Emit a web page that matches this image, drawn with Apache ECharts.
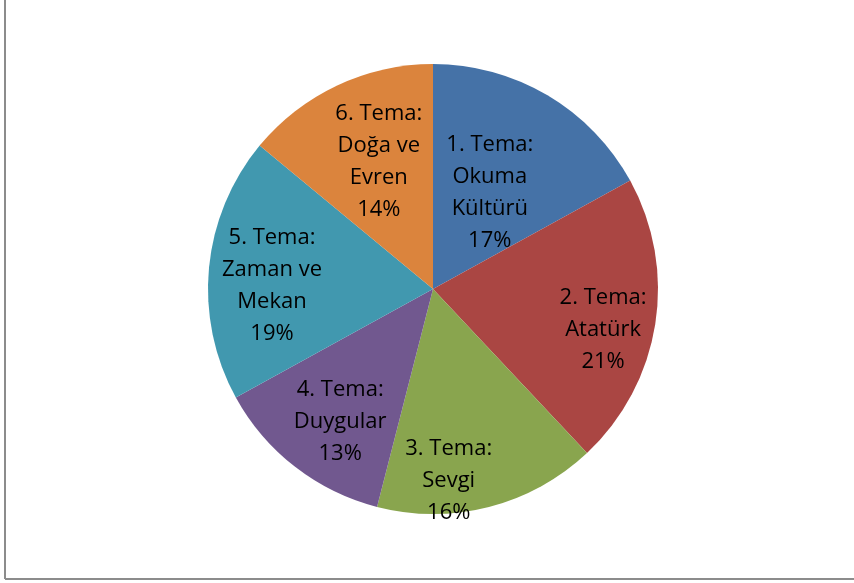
<!DOCTYPE html>
<html>
<head>
<meta charset="utf-8">
<script src="https://cdn.jsdelivr.net/npm/echarts@6/dist/echarts.min.js"></script>
<style>html,body{margin:0;padding:0;background:#fff;}#c{width:854px;height:583px;}</style>
</head>
<body>
<div id="c"></div>
<script>
const categories = ["1. Tema:\nOkuma\nKültürü", "2. Tema:\nAtatürk", "3. Tema:\nSevgi", "4. Tema:\nDuygular", "5. Tema:\nZaman ve\nMekan", "6. Tema:\nDoğa ve\nEvren"];
const values = [17, 21, 16, 13, 19, 14];
const colors = ["#4572A7", "#AA4643", "#89A54E", "#71588F", "#4198AF", "#DB843D"];
const labelShift = [[-2, 3], [56, 23], [-13, 80], [-22, 41], [-46, 8], [-5, -23]];

const chart = echarts.init(document.getElementById('c'));
chart.setOption({
  animation: false,
  graphic: [
    { type: 'line', shape: { x1: 5, y1: 0, x2: 5, y2: 579 }, style: { stroke: '#8c8c8c', lineWidth: 2 } },
    { type: 'line', shape: { x1: 5, y1: 579, x2: 854, y2: 579 }, style: { stroke: '#8c8c8c', lineWidth: 2 } }
  ],
  series: [{
    type: 'pie',
    center: [433, 289],
    radius: [0, 225],
    startAngle: 90,
    clockwise: true,
    itemStyle: { borderWidth: 0 },
    label: {
      position: 'inside',
      color: '#000',
      fontFamily: 'Open Sans',
      fontSize: 22,
      lineHeight: 32,
      align: 'center',
      formatter: p => p.name + '\n' + p.value + '%'
    },
    labelLayout: function (params) {
      const s = labelShift[params.dataIndex];
      return { dx: s[0], dy: s[1] };
    },
    emphasis: { disabled: true },
    data: categories.map((c, i) => ({ name: c, value: values[i], itemStyle: { color: colors[i] } }))
  }]
});
</script>
</body>
</html>
